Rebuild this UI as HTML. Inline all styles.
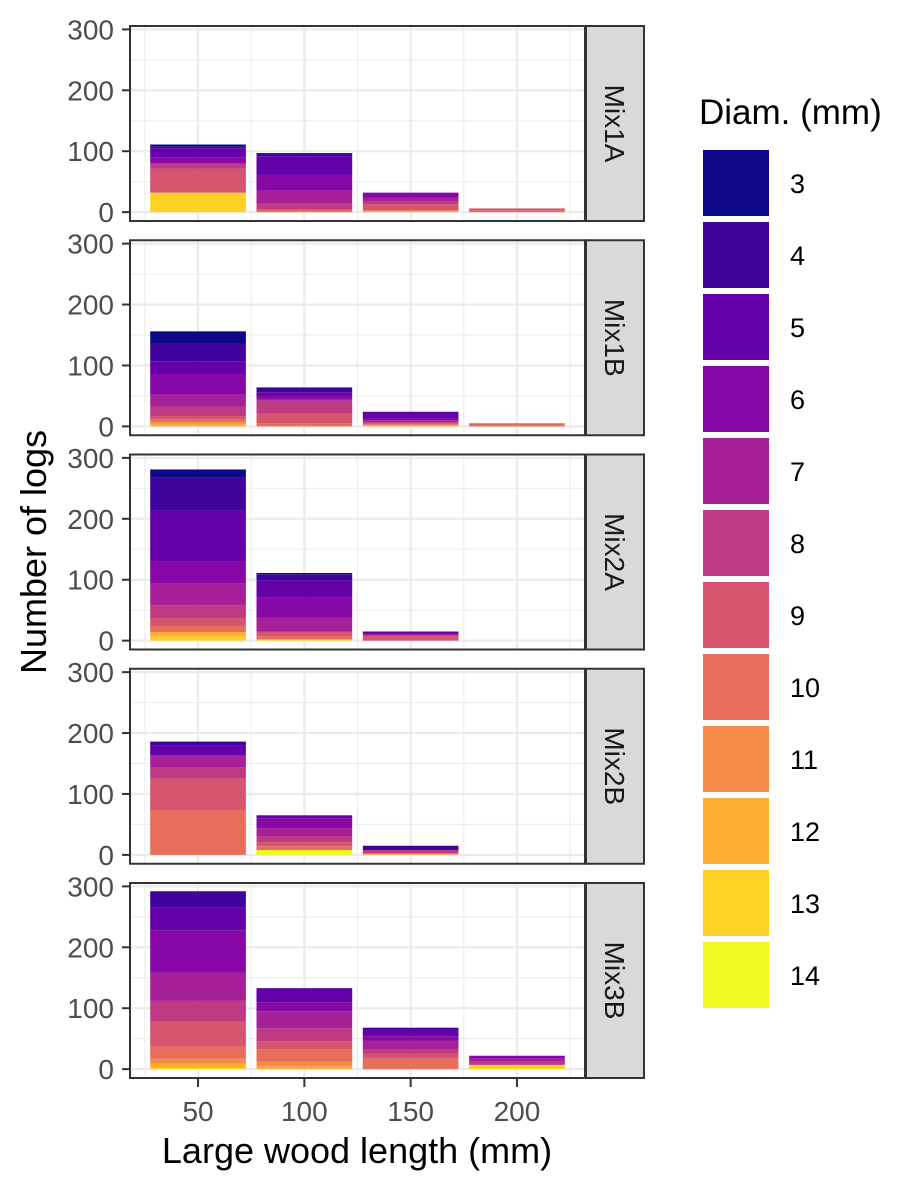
<!DOCTYPE html>
<html><head><meta charset="utf-8">
<style>
html,body{margin:0;padding:0;background:#fff;}
svg{display:block;font-family:"Liberation Sans",Arial,sans-serif;}
</style></head>
<body>
<svg id="chart" width="921" height="1188" viewBox="0 0 921 1188" xmlns="http://www.w3.org/2000/svg">
<text x="357" y="1163" font-size="36" text-anchor="middle" fill="#000">Large wood length (mm)</text>
<text transform="translate(46,552) rotate(-90)" font-size="36" text-anchor="middle" fill="#000">Number of logs</text>
<text x="699" y="124" font-size="35" fill="#000">Diam. (mm)</text>
</svg>
<script>
const facets = ["Mix1A","Mix1B","Mix2A","Mix2B","Mix3B"];
const lengths = [50,100,150,200];
const diameters = [3,4,5,6,7,8,9,10,11,12,13,14];
const colors = ["#0D0887","#3E049C","#6300A7","#8707A6","#A62098","#C03A83","#D5546E","#E76F5A","#F58C46","#FDAD32","#FCD225","#F0F921"];
const yTicks = [0,100,200,300];
// counts per facet, per length bar, per diameter (3..14)
const mix1A = [
  [3,3,15,10,0,9,39,0,0,0,32,0],
  [0,5,31,26,20,11,0,4,0,0,0,0],
  [0,0,0,8,7,4,10,0,2,1,0,0],
  [0,0,0,0,0,2,0,4,0,0,0,0]];
const mix1B = [
  [20,29,21,34,20,15,6,4,3,4,0,0],
  [0,8,6,5,3,21,16,5,0,0,0,0],
  [0,0,11,3,3,2,2,0,0,3,0,0],
  [0,0,0,0,0,1,0,4,0,0,0,0]];
const mix2A = [
  [13,55,83,36,36,21,13,10,0,7,7,0],
  [2,10,28,33,23,0,8,5,0,0,2,0],
  [0,0,4,0,3,0,8,0,0,0,0,0],
  [0,0,0,0,0,0,0,0,0,0,0,0]];
const mix2B = [
  [0,7,15,0,21,18,52,73,0,0,0,0],
  [0,0,5,16,13,10,7,6,0,0,0,8],
  [0,7,0,0,0,5,0,2,0,1,0,0],
  [0,0,0,0,0,0,0,0,0,0,0,0]];
const mix3B = [
  [0,26,38,70,46,34,41,20,8,7,2,0],
  [0,0,23,15,28,21,13,21,8,4,0,0],
  [0,3,11,7,15,7,8,17,0,0,0,0],
  [0,0,0,5,5,5,0,0,0,0,7,0]];
const facetData = [mix1A,mix1B,mix2A,mix2B,mix3B];

const NS = "http://www.w3.org/2000/svg";
const svg = document.getElementById("chart");
function mk(tag, attrs, parent){
  const e = document.createElementNS(NS, tag);
  for (const k in attrs) e.setAttribute(k, attrs[k]);
  (parent||svg).appendChild(e);
  return e;
}
const PL = 130, PR = 585, PH = 195, TOP0 = 26, STEP = 214.25;
const XMIN = 18.0, XMAX = 232.0, YMIN = -14.55, YMAX = 305.55;
const xS = v => PL + (v - XMIN) / (XMAX - XMIN) * (PR - PL);
function yS(v, top){ return top + PH - (v - YMIN) / (YMAX - YMIN) * PH; }
const BW = 45;

facets.forEach((name, fi) => {
  const top = TOP0 + fi * STEP;
  const g = mk("g", {});
  
  
  [25,75,125,175,225].forEach(v => { const x = xS(v); if (x > PL && x < PR) {
    const l = mk("line",{x1:x,x2:x,y1:top,y2:top+PH,stroke:"#EBEBEB","stroke-width":1},g);
      }});
  [50,150,250].forEach(v => { const y = yS(v, top);
    const l = mk("line",{x1:PL,x2:PR,y1:y,y2:y,stroke:"#EBEBEB","stroke-width":1},g);
      });
  lengths.forEach(v => { const x = xS(v);
    const l = mk("line",{x1:x,x2:x,y1:top,y2:top+PH,stroke:"#EBEBEB","stroke-width":2.2},g);
      });
  yTicks.forEach(v => { const y = yS(v, top);
    const l = mk("line",{x1:PL,x2:PR,y1:y,y2:y,stroke:"#EBEBEB","stroke-width":2.2},g);
      });
  facetData[fi].forEach((counts, li) => {
    let cum = 0;
    for (let di = diameters.length - 1; di >= 0; di--) {
      const c = counts[di];
      if (!c) continue;
      const y1 = yS(cum + c, top), y0 = yS(cum, top);
      const r = mk("rect",{x:xS(lengths[li]-BW/2),y:y1,width:xS(lengths[li]+BW/2)-xS(lengths[li]-BW/2),height:y0-y1,fill:colors[di]},g);
      
      
      cum += c;
    }
  });
  const border = mk("rect",{x:PL,y:top,width:PR-PL,height:PH,fill:"none",stroke:"#333","stroke-width":2},g);
   
  yTicks.forEach(v => { const y = yS(v, top);
    const t = mk("line",{x1:PL-8,x2:PL,y1:y,y2:y,stroke:"#333","stroke-width":2},g);
     
    const lb = mk("text",{x:PL-16,y:y+10,"font-size":28,"text-anchor":"end",fill:"#4D4D4D"},g);
    lb.textContent = v;
     
  });
  const s = mk("rect",{x:586,y:top,width:58,height:PH,fill:"#D9D9D9",stroke:"#333","stroke-width":2},g);
   
  const st = mk("text",{transform:`translate(605,${top+PH/2}) rotate(90)`,"font-size":28,"text-anchor":"middle",fill:"#1A1A1A"},g);
  st.textContent = name;
   
});
const lastBottom = TOP0 + 4*STEP + PH;
lengths.forEach(v => { const x = xS(v);
  const t = mk("line",{x1:x,x2:x,y1:lastBottom,y2:lastBottom+9,stroke:"#333","stroke-width":2});
   
  const lb = mk("text",{x:x,y:lastBottom+43,"font-size":28,"text-anchor":"middle",fill:"#4D4D4D"});
  lb.textContent = v;
   
});
diameters.forEach((d, i) => {
  const y = 150 + i * 72;
  const r = mk("rect",{x:703,y:y,width:66,height:66,fill:colors[i]});
   
  const t = mk("text",{x:790,y:y+43,"font-size":27,fill:"#000"});
  t.textContent = d;
   
});
</script>
</body></html>
